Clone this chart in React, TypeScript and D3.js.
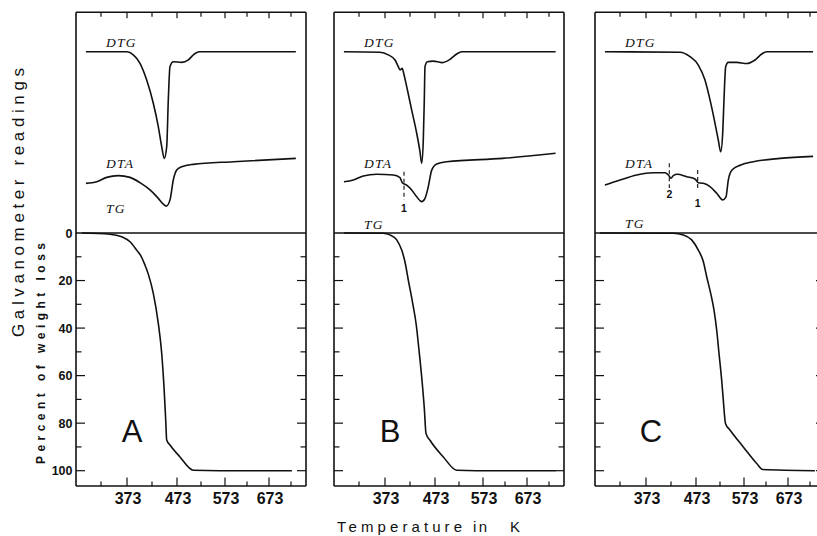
import React from "react";
import * as d3 from "d3";

// temperature ticks (K)
const tempTicks = [373, 473, 573, 673];
const tempMinorTicks = [323, 423, 523, 623, 723];
// percent of weight loss ticks
const percentTicks = [0, 20, 40, 60, 80, 100];

const panelNames = ["A", "B", "C"];

// [T in K, galvanometer reading (arbitrary)]
const dtgA = [
  [294, 82.1], [373, 82.1], [385.6, 80.7], [399, 76.9], [412.4, 69.3], [425.6, 58.8],
  [435.6, 48.2], [442.4, 39.1], [447.6, 33.8], [452.4, 39.1], [455.6, 60.3], [459, 75.4],
  [465.6, 77.6], [482.8, 77.3], [496.5, 78.4], [507, 80.7], [519.5, 82.1], [734, 82.1],
];
const dtaA = [
  [294, 22.5], [314.7, 23.2], [334, 25.2], [356.3, 26.0], [379, 25.2], [399, 22.8],
  [419, 19.5], [435.6, 15.7], [445.6, 13.1], [451.6, 12.2], [459, 15.0], [465.6, 24.0],
  [472.4, 28.5], [482.8, 30.0], [507, 31.1], [591.9, 32.3], [734, 33.8],
];
// [T in K, percent of weight loss]
const tgA = [
  [286, 0], [340.3, 0.5], [362.8, 1.6], [379, 3.7], [392.4, 7.2], [401, 9.7],
  [409, 13.5], [415.6, 17.3], [425.6, 25.4], [435.6, 38.0], [442.4, 50.6], [447, 64.7],
  [450.4, 78.7], [452.4, 87.1], [459, 89.2], [479.2, 94.2], [507, 99.8], [562.4, 100], [725, 100],
];

const dtgB = [
  [294, 82.1], [363.4, 81.9], [379.6, 80.7], [393, 78.4], [399.6, 75.4], [403, 73.9],
  [407.6, 74.6], [409.6, 73.1], [416.4, 66.3], [426.4, 55.7], [436.4, 45.2], [443, 36.8],
  [446.4, 31.6], [449.6, 42.1], [451.6, 60.3], [453, 75.4], [457.6, 77.6], [469.6, 77.9],
  [487, 77.2], [504.3, 78.7], [518.2, 81.1], [528.6, 82.1], [738, 82.1],
];
const dtaB = [
  [294, 23.2], [312, 24.0], [331.3, 25.8], [357, 26.6], [389.6, 26.3], [403, 25.1],
  [407.6, 22.8], [416.4, 21.7], [426.4, 19.5], [436.4, 16.4], [446.4, 14.2], [453, 15.7],
  [459.6, 21.0], [466.4, 28.5], [476.5, 31.3], [497.3, 32.3], [617.8, 33.8], [738, 36.1],
];
const tgB = [
  [294, 0], [369.7, 0.1], [383, 0.8], [396.4, 2.9], [406.4, 7.2], [413, 12.2],
  [419.6, 19.8], [428.4, 29.6], [435.6, 38.8], [441, 49.3], [446.4, 60.6], [451.6, 73.7],
  [455, 84.3], [463, 87.2], [490.3, 94.2], [518.2, 99.8], [559.9, 100], [738, 100],
];

const dtgC = [
  [294, 82.1], [441, 81.9], [461, 79.9], [477.8, 76.1], [491.7, 69.3], [502.2, 60.3],
  [512.6, 49.7], [519.5, 42.1], [524.5, 36.8], [528.6, 45.2], [531.3, 60.3], [534.9, 75.4],
  [540.3, 77.3], [557.8, 77.3], [579.1, 76.8], [598, 78.4], [613.2, 81.1], [624.5, 82.1],
  [730, 82.1],
];
const dtaC = [
  [294, 21.7], [323, 24.0], [355.1, 26.3], [387.6, 27.3], [411, 27.3], [417.6, 26.3],
  [423, 24.8], [427.6, 26.0], [435.6, 26.6], [454.4, 25.5], [471, 24.5], [477.8, 22.8],
  [488.2, 22.5], [502.2, 21.0], [516.1, 18.0], [528.6, 15.0], [535.5, 16.4], [540.3, 24.0],
  [548.1, 28.5], [566.3, 30.8], [594.1, 32.3], [654.8, 33.8], [730, 34.7],
];
const tgC = [
  [284.5, 0], [427.6, 0.1], [447.6, 0.8], [464.4, 2.9], [477.8, 7.2], [488.2, 12.0],
  [495.3, 18.4], [503.6, 25.4], [510.5, 32.4], [516.1, 40.8], [520.9, 50.6], [526.5, 61.9],
  [529.9, 70.3], [534.4, 80.1], [543.8, 82.9], [571.5, 90.0], [601.9, 97.0], [615.5, 99.5],
  [734, 100],
];

// dashed transition markers on DTA: label, T, reading top, reading bottom
const markersA: { label: string; t: number; top: number; bottom: number }[] = [];
const markersB = [{ label: "1", t: 411, top: 27.8, bottom: 15 }];
const markersC = [
  { label: "2", t: 419.6, top: 31.6, bottom: 20.4 },
  { label: "1", t: 476.5, top: 28.5, bottom: 20.4 },
];

const panels = [
  { dtg: dtgA, dta: dtaA, tg: tgA, markers: markersA },
  { dtg: dtgB, dta: dtaB, tg: tgB, markers: markersB },
  { dtg: dtgC, dta: dtaC, tg: tgC, markers: markersC },
];

const W = 817;
const H = 536;
const lefts = [76, 334, 595];
const panelW = 230;
const top = 12.3;
const bottom = 486;
const tgLabelY = [213, 229, 228];
const markerLabelGap = [[], [12], [10, 19]];

const yRead = d3.scaleLinear().domain([0, 100]).range([233, 12.3]);
const yPct = d3.scaleLinear().domain([0, 100]).range([233, 470.7]);

const sans = "'Liberation Sans', Arial, sans-serif";
const serif = "'Liberation Serif', 'Times New Roman', serif";
const ink = "#111";

function Panel({ index }: { index: number }) {
  const left = lefts[index];
  const right = left + panelW;
  const edge = Math.min(right, W);
  const p = panels[index];
  // the printed temperature axis is slightly uneven
  const x = d3
    .scaleLinear()
    .domain([323, 373, 473, 573, 673, 723])
    .range([25, 51, 101, 149, 193, 215].map((o) => left + o));

  const readLine = d3
    .line<number[]>()
    .x((d) => x(d[0]))
    .y((d) => yRead(d[1]))
    .curve(d3.curveMonotoneX);
  const pctLine = d3
    .line<number[]>()
    .x((d) => x(d[0]))
    .y((d) => yPct(d[1]))
    .curve(d3.curveMonotoneX);

  const allPct = d3.range(10, 101, 10);

  return (
    <g>
      <line x1={left} x2={edge} y1={top} y2={top} stroke={ink} strokeWidth={1.6} />
      <line x1={left} x2={edge} y1={bottom} y2={bottom} stroke={ink} strokeWidth={1.6} />
      <line x1={left} x2={left} y1={top} y2={bottom} stroke={ink} strokeWidth={1.6} />
      {right < W && <line x1={right} x2={right} y1={top} y2={bottom} stroke={ink} strokeWidth={1.6} />}
      {/* zero line of TG */}
      <line x1={left} x2={edge} y1={yPct(0)} y2={yPct(0)} stroke={ink} strokeWidth={1.4} />

      {tempTicks.concat(tempMinorTicks).map((t) => {
        const major = tempTicks.includes(t);
        return (
          <g key={"t" + t}>
            <line x1={x(t)} x2={x(t)} y1={top} y2={top + (major ? 6 : 4.5)} stroke={ink} strokeWidth={1.2} />
            <line x1={x(t)} x2={x(t)} y1={bottom} y2={bottom - (major ? 8.5 : 4.5)} stroke={ink} strokeWidth={1.2} />
          </g>
        );
      })}
      {tempTicks.map((t) => (
        <text key={"tl" + t} x={x(t) + 1} y={503.5} textAnchor="middle" fontFamily={sans} fontWeight="bold" fontSize={16} fill={ink}>
          {t}
        </text>
      ))}

      {allPct.map((v) => {
        const major = percentTicks.includes(v);
        const len = major ? 9 : 5.5;
        return (
          <g key={"p" + v}>
            <line x1={left} x2={left + len} y1={yPct(v)} y2={yPct(v)} stroke={ink} strokeWidth={1.2} />
            <line x1={right} x2={right - len} y1={yPct(v)} y2={yPct(v)} stroke={ink} strokeWidth={1.2} />
          </g>
        );
      })}

      <path d={readLine(p.dtg) || ""} fill="none" stroke={ink} strokeWidth={1.6} />
      <path d={readLine(p.dta) || ""} fill="none" stroke={ink} strokeWidth={1.6} />
      <path d={pctLine(p.tg) || ""} fill="none" stroke={ink} strokeWidth={1.6} />

      {p.markers.map((m, i) => (
        <g key={"m" + i}>
          <line x1={x(m.t)} x2={x(m.t)} y1={yRead(m.top)} y2={yRead(m.bottom)} stroke={ink} strokeWidth={1.1} strokeDasharray="4,3" />
          <text x={x(m.t)} y={yRead(m.bottom) + markerLabelGap[index][i]} textAnchor="middle" fontFamily={sans} fontWeight="bold" fontSize={10.5} fill={ink}>
            {m.label}
          </text>
        </g>
      ))}

      <text x={left + 30} y={46.5} fontFamily={serif} fontStyle="italic" fontSize={13.5} letterSpacing={1.3} fill={ink}>DTG</text>
      <text x={left + 30} y={168} fontFamily={serif} fontStyle="italic" fontSize={13.5} letterSpacing={1.3} fill={ink}>DTA</text>
      <text x={left + 30} y={tgLabelY[index]} fontFamily={serif} fontStyle="italic" fontSize={13.5} letterSpacing={1.3} fill={ink}>TG</text>

      <text x={left + 56} y={442} textAnchor="middle" fontFamily={sans} fontSize={31} fill={ink}>
        {panelNames[index]}
      </text>
    </g>
  );
}

export default function App() {
  return (
    <svg
      width={W}
      height={H}
      style={{ position: "fixed", left: 0, top: 0, display: "block", background: "#fff" }}
    >
      <rect width={W} height={H} fill="#fff" />
      {panels.map((_, i) => (
        <Panel key={i} index={i} />
      ))}

      {percentTicks.map((v) => (
        <text key={"pl" + v} x={72.5} y={yPct(v) + 4.5} textAnchor="end" fontFamily={sans} fontWeight="bold" fontSize={12.5} fill={ink}>
          {v}
        </text>
      ))}

      <text
        transform="translate(24,202.5) rotate(-90)"
        textAnchor="middle"
        fontFamily={sans}
        fontSize={17}
        textLength={269}
        lengthAdjust="spacing"
        fill={ink}
      >
        Galvanometer readings
      </text>
      <text
        transform="translate(45,353.5) rotate(-90)"
        textAnchor="middle"
        fontFamily={sans}
        fontWeight="bold"
        fontSize={12}
        textLength={221}
        lengthAdjust="spacing"
        fill={ink}
      >
        Percent of weight loss
      </text>

      <text x={337} y={531.5} fontFamily={sans} fontSize={15} textLength={125} lengthAdjust="spacing" fill={ink}>Temperature</text>
      <text x={473} y={531.5} fontFamily={sans} fontSize={15} textLength={14} lengthAdjust="spacing" fill={ink}>in</text>
      <text x={510} y={531.5} fontFamily={sans} fontSize={15} fill={ink}>K</text>
    </svg>
  );
}
